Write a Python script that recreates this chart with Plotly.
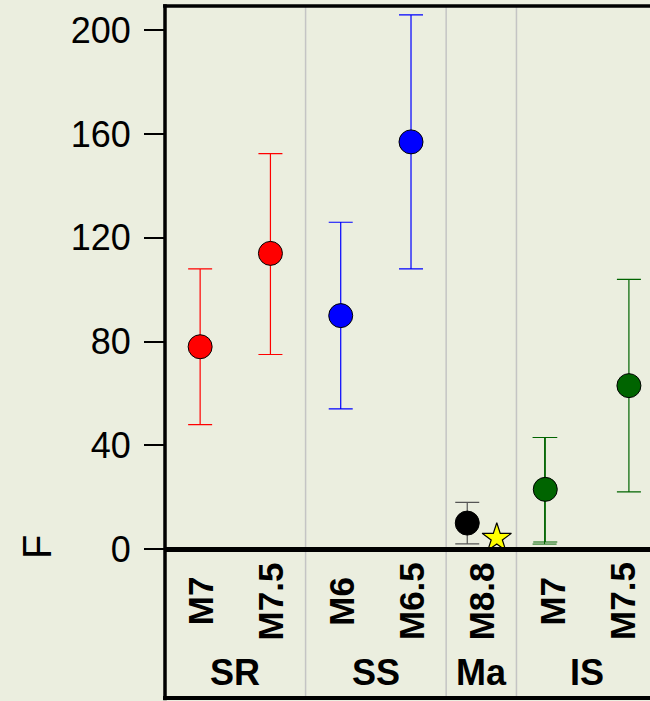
import plotly.graph_objects as go

# Sub-categories (position index along the x axis) and their groups
labels = ["M7", "M7.5", "M6", "M6.5", "M8.8", "M7", "M7.5"]
groups = ["SR", "SS", "Ma", "IS"]
group_centers = [0.5, 2.5, 4.0, 5.5]
separators = [1.5, 3.5, 4.5]

# Point estimates with upper / lower bounds
series = [
    dict(name="SR", color="#ff0000", x=[0.0, 1.0], y=[78, 114], hi=[108, 152.5], lo=[48, 75]),
    dict(name="SS", color="#0000ff", x=[2.0, 3.0], y=[90, 157], hi=[126, 206], lo=[54, 108]),
    dict(name="Ma", color="#000000", x=[3.8], y=[10], hi=[18], lo=[2]),
    dict(name="IS", color="#006400", x=[4.91, 6.1], y=[23, 63], hi=[43, 104], lo=[2.7, 22]),
]
extra_x = [4.9]
extra_y = [23]
extra_hi = [43]
extra_lo = [1.9]
star_x = [4.22]
star_y = [4.2]

XMIN, XMAX = -0.5, 6.4
YMAX = 209.4
BG = "#ebeedf"
FONT = "Liberation Sans, Arial, sans-serif"

fig = go.Figure()

err_colors = {"SR": "#ff0000", "SS": "#0000ff", "Ma": "#555555", "IS": "#006400"}

fig.add_trace(go.Scatter(
    x=extra_x, y=extra_y, mode="markers", marker=dict(size=1, opacity=0),
    error_y=dict(type="data", symmetric=False,
                 array=[h - v for h, v in zip(extra_hi, extra_y)],
                 arrayminus=[v - l for l, v in zip(extra_lo, extra_y)],
                 color="#006400", thickness=1.0, width=12),
    showlegend=False, hoverinfo="skip",
))

for s in series:
    fig.add_trace(go.Scatter(
        x=s["x"], y=s["y"], mode="markers",
        marker=dict(size=24, color=s["color"], line=dict(color="black", width=1)),
        error_y=dict(type="data", symmetric=False,
                     array=[h - v for h, v in zip(s["hi"], s["y"])],
                     arrayminus=[v - l for l, v in zip(s["lo"], s["y"])],
                     color=err_colors[s["name"]], thickness=1.2, width=12),
        showlegend=False, cliponaxis=False,
    ))

fig.add_trace(go.Scatter(
    x=star_x, y=star_y, mode="markers",
    marker=dict(symbol="star", size=22, color="#ffff00", line=dict(color="black", width=1.2)),
    showlegend=False, cliponaxis=False,
))

def px(v):
    return (v - XMIN) / (XMAX - XMIN)

plot_h = 701 - 6 - 152
bottom = -(698 - 549) / plot_h

shapes = []
for sx in separators:
    shapes.append(dict(type="line", xref="paper", yref="paper", x0=px(sx), x1=px(sx),
                       y0=bottom, y1=1, line=dict(color="#c4c4c4", width=1.5), layer="below"))
# frame: top, left, zero line, bottom
shapes.append(dict(type="line", xref="paper", yref="paper", x0=-0.004, x1=1.05, y0=1, y1=1,
                   line=dict(color="black", width=3.5)))
shapes.append(dict(type="line", xref="paper", yref="paper", x0=0, x1=0, y0=bottom - 0.004, y1=1.003,
                   line=dict(color="black", width=3.5)))
shapes.append(dict(type="line", xref="paper", yref="paper", x0=0, x1=1.05, y0=-0.001, y1=-0.001,
                   line=dict(color="black", width=5)))
shapes.append(dict(type="line", xref="paper", yref="paper", x0=-0.004, x1=1.05, y0=bottom, y1=bottom,
                   line=dict(color="black", width=4)))

annotations = []
for i, lab in enumerate(labels):
    annotations.append(dict(text="<b>%s</b>" % lab, x=px(i), y=-(601 - 549) / plot_h,
                            xref="paper", yref="paper", showarrow=False, textangle=-90,
                            xanchor="center", yanchor="middle",
                            font=dict(family=FONT, size=35, color="black")))
for g, c in zip(groups, group_centers):
    annotations.append(dict(text="<b>%s</b>" % g, x=px(c), y=-(672 - 549) / plot_h,
                            xref="paper", yref="paper", showarrow=False,
                            xanchor="center", yanchor="middle",
                            font=dict(family=FONT, size=36, color="black")))
annotations.append(dict(text="F", x=(37 - 165) / 485, y=(549 - 547) / plot_h,
                        xref="paper", yref="paper", showarrow=False, textangle=-90,
                        xanchor="center", yanchor="middle",
                        font=dict(family=FONT, size=40, color="black")))

fig.update_layout(
    width=650, height=701,
    margin=dict(l=165, r=0, t=6, b=152, pad=0),
    paper_bgcolor=BG, plot_bgcolor=BG,
    shapes=shapes, annotations=annotations,
    xaxis=dict(range=[XMIN, XMAX], showgrid=False, zeroline=False, showticklabels=False,
               ticks="", showline=False, fixedrange=True),
    yaxis=dict(range=[0, YMAX], showgrid=False, zeroline=False, showline=False,
               tickvals=[0, 40, 80, 120, 160, 200], ticks="outside", ticklen=20,
               tickwidth=1.5, tickcolor="black", ticklabelstandoff=6,
               tickfont=dict(family=FONT, size=36, color="black")),
)

fig.write_html("out.html")
